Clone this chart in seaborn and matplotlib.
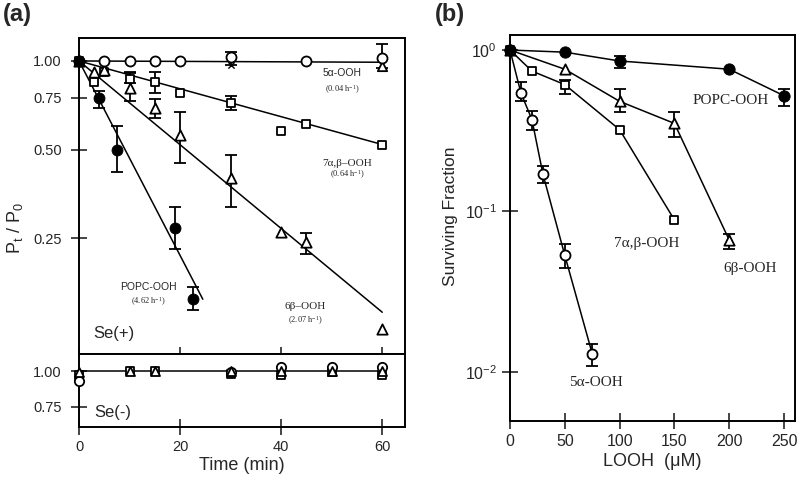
import numpy as np
import pandas as pd
import matplotlib
matplotlib.use("Agg")
import matplotlib.pyplot as plt
from matplotlib.ticker import FixedLocator, FixedFormatter, NullLocator
import seaborn as sns

# ---- panel (a), Se(+) : time (min) vs Pt/P0 ----
t_5a = [0, 5, 10, 15, 20, 30, 45, 60]
v_5a = [1.0, 1.0, 1.0, 1.0, 1.0, 1.03, 1.0, 1.02]
eb_5a_t = [30, 60]
eb_5a_lo = [0.97, 0.95]
eb_5a_hi = [1.07, 1.14]

t_7ab = [0, 3, 5, 10, 15, 20, 30, 40, 45, 60]
v_7ab = [1.0, 0.85, 0.92, 0.87, 0.85, 0.78, 0.72, 0.58, 0.61, 0.52]
eb_7ab_t = [10, 15, 30]
eb_7ab_lo = [0.84, 0.78, 0.68]
eb_7ab_hi = [0.92, 0.92, 0.76]

t_6b = [0, 3, 5, 10, 15, 20, 30, 40, 45, 60]
v_6b = [1.0, 0.92, 0.93, 0.81, 0.69, 0.56, 0.40, 0.263, 0.243, 0.123]
eb_6b_t = [10, 15, 20, 30, 45]
eb_6b_lo = [0.73, 0.64, 0.45, 0.32, 0.22]
eb_6b_hi = [0.91, 0.74, 0.67, 0.48, 0.26]

t_popc = [0, 4, 7.5, 19, 22.5]
v_popc = [1.0, 0.75, 0.50, 0.27, 0.155]
eb_popc_lo = [1.0, 0.69, 0.42, 0.23, 0.143]
eb_popc_hi = [1.0, 0.79, 0.60, 0.32, 0.17]

# fitted first-order decay lines (start, end)
fit_names = ["5a", "7ab", "6b", "popc"]
fit_t = [[0, 60], [0, 60], [0, 60], [0, 24.5]]
fit_v = [[1.0, 0.99], [1.0, 0.52], [1.0, 0.14], [1.0, 0.155]]

# stray symbols
extra_t = [30, 60]
extra_v = [0.97, 0.96]

# ---- panel (a), Se(-) ----
tn_5a = [0, 30, 40, 50, 60]
vn_5a = [0.92, 0.99, 1.03, 1.03, 1.03]
tn_7ab = [0, 10, 15, 30, 40, 50, 60]
vn_7ab = [0.97, 1.0, 1.0, 0.98, 0.97, 0.99, 0.97]
tn_6b = [0, 10, 15, 30, 40, 50, 60]
vn_6b = [0.99, 1.0, 1.0, 1.0, 1.0, 1.0, 1.0]

# ---- panel (b): LOOH (uM) vs surviving fraction ----
b_popc_x = [0, 50, 100, 200, 250]
b_popc_y = [1.0, 0.97, 0.855, 0.76, 0.52]
b_popc_eb_x = [100, 250]
b_popc_lo = [0.77, 0.45]
b_popc_hi = [0.92, 0.57]

b_6b_x = [0, 50, 100, 150, 200]
b_6b_y = [1.0, 0.76, 0.48, 0.35, 0.066]
b_6b_eb_x = [100, 150, 200]
b_6b_lo = [0.41, 0.29, 0.058]
b_6b_hi = [0.57, 0.41, 0.072]

b_7ab_x = [0, 20, 50, 100, 150]
b_7ab_y = [1.0, 0.74, 0.61, 0.32, 0.088]
b_7ab_eb_x = [50]
b_7ab_lo = [0.53]
b_7ab_hi = [0.65]

b_5a_x = [0, 10, 20, 30, 50, 75]
b_5a_y = [1.0, 0.54, 0.37, 0.17, 0.053, 0.013]
b_5a_eb_x = [10, 20, 30, 50, 75]
b_5a_lo = [0.48, 0.32, 0.15, 0.044, 0.0109]
b_5a_hi = [0.63, 0.42, 0.19, 0.062, 0.015]

sns.set_style("ticks")
plt.rcParams['font.family'] = ['Liberation Sans', 'DejaVu Sans']
plt.rcParams['mathtext.default'] = 'regular'

fig = plt.figure(figsize=(8, 4.82), dpi=100)
axu = fig.add_axes([0.09875, 0.2656, 0.4075, 0.6556])
axl = fig.add_axes([0.09875, 0.1141, 0.4075, 0.1515])
axb = fig.add_axes([0.6375, 0.1266, 0.35625, 0.8008])

open_kw = dict(facecolor="white", edgecolor="black", linewidth=1.3, zorder=4, clip_on=False, legend=False)
line_kw = dict(color="black", linewidth=1.1, zorder=2, estimator=None, sort=False, legend=False)


def bars(ax, x, lo, hi, cap=4):
    x = np.asarray(x, float)
    lo = np.asarray(lo, float)
    hi = np.asarray(hi, float)
    mid = (lo + hi) / 2
    ax.errorbar(x, mid, yerr=[mid - lo, hi - mid], fmt="none", ecolor="black",
                elinewidth=1.3, capsize=cap, capthick=1.3, zorder=3)


# upper (a)
for tt, vv in zip(fit_t, fit_v):
    sns.lineplot(x=tt, y=vv, ax=axu, **line_kw)
bars(axu, eb_5a_t, eb_5a_lo, eb_5a_hi)
bars(axu, eb_7ab_t, eb_7ab_lo, eb_7ab_hi)
bars(axu, eb_6b_t, eb_6b_lo, eb_6b_hi)
bars(axu, t_popc[1:], eb_popc_lo[1:], eb_popc_hi[1:])
sns.scatterplot(x=t_7ab, y=v_7ab, marker="s", s=40, ax=axu, **open_kw)
sns.scatterplot(x=t_6b, y=v_6b, marker="^", s=55, ax=axu, **open_kw)
sns.scatterplot(x=t_5a, y=v_5a, marker="o", s=52, ax=axu, **open_kw)
sns.scatterplot(x=t_popc, y=v_popc, marker="o", s=62, color="black", edgecolor="black",
                zorder=5, clip_on=False, ax=axu, legend=False)
axu.scatter(extra_t[:1], extra_v[:1], marker="x", s=20, color="black", linewidths=1, zorder=4)
axu.scatter(extra_t[1:], extra_v[1:], marker="^", s=45, facecolor="white", edgecolor="black",
            linewidths=1.3, zorder=3)

axu.set_yscale("log")
axu.set_xlim(0, 64.5)
axu.set_ylim(0.101, 1.197)
axu.yaxis.set_major_locator(FixedLocator([0.25, 0.5, 0.75, 1.0]))
axu.yaxis.set_major_formatter(FixedFormatter(["0.25", "0.50", "0.75", "1.00"]))
axu.yaxis.set_minor_locator(NullLocator())
axu.set_xticks([0, 20, 40, 60])
axu.tick_params(axis="x", direction="in", length=5, width=1.2, labelbottom=False)
axu.tick_params(axis="y", direction="inout", length=11, width=1.2, labelsize=10.5, pad=7)

sfont = dict(fontsize=7.5, ha="center", va="center")
axu.text(52, 0.91, "5α-OOH", **sfont)
axu.text(52, 0.80, "(0.04 h$^{-1}$)", fontsize=6, ha="center", va="center", family="Liberation Serif")
axu.text(53, 0.45, "7α,β–OOH", fontsize=8, ha="center", va="center", family="Liberation Serif")
axu.text(53, 0.41, "(0.64 h$^{-1}$)", fontsize=6, ha="center", va="center", family="Liberation Serif")
axu.text(13.7, 0.171, "POPC-OOH", **sfont)
axu.text(13.7, 0.152, "(4.62 h$^{-1}$)", fontsize=6, ha="center", va="center", family="Liberation Serif")
axu.text(44.8, 0.146, "6β–OOH", fontsize=8, ha="center", va="center", family="Liberation Serif")
axu.text(44.8, 0.131, "(2.07 h$^{-1}$)", fontsize=6, ha="center", va="center", family="Liberation Serif")
axu.text(2.8, 0.119, "Se(+)", fontsize=12, ha="left", va="center")

# lower (a)
sns.lineplot(x=[0, 60], y=[1.0, 1.0], ax=axl, **line_kw)
sns.scatterplot(x=tn_7ab, y=vn_7ab, marker="s", s=34, ax=axl, **open_kw)
sns.scatterplot(x=tn_5a, y=vn_5a, marker="o", s=45, ax=axl, **open_kw)
sns.scatterplot(x=tn_6b, y=vn_6b, marker="^", s=42, ax=axl, **open_kw)
axl.set_yscale("log")
axl.set_xlim(0, 64.5)
axl.set_ylim(0.639, 1.146)
axl.yaxis.set_major_locator(FixedLocator([0.75, 1.0]))
axl.yaxis.set_major_formatter(FixedFormatter(["0.75", "1.00"]))
axl.yaxis.set_minor_locator(NullLocator())
axl.set_xticks([0, 20, 40, 60])
axl.tick_params(axis="both", direction="inout", length=11, width=1.2, labelsize=10.5, pad=7)
axl.tick_params(axis="x", pad=4)
axl.text(3, 0.72, "Se(-)", fontsize=12, ha="left", va="center")
axl.set_xlabel("Time (min)", fontsize=13, labelpad=2)

# panel (b)
for xx, yy in [(b_popc_x, b_popc_y), (b_6b_x, b_6b_y), (b_7ab_x, b_7ab_y), (b_5a_x, b_5a_y)]:
    sns.lineplot(x=xx, y=yy, ax=axb, **line_kw)
bars(axb, b_popc_eb_x, b_popc_lo, b_popc_hi)
bars(axb, b_6b_eb_x, b_6b_lo, b_6b_hi)
bars(axb, b_7ab_eb_x, b_7ab_lo, b_7ab_hi)
bars(axb, b_5a_eb_x, b_5a_lo, b_5a_hi)
sns.scatterplot(x=b_7ab_x, y=b_7ab_y, marker="s", s=40, ax=axb, **open_kw)
sns.scatterplot(x=b_6b_x, y=b_6b_y, marker="^", s=55, ax=axb, **open_kw)
sns.scatterplot(x=b_5a_x, y=b_5a_y, marker="o", s=52, ax=axb, **open_kw)
sns.scatterplot(x=b_popc_x, y=b_popc_y, marker="o", s=66, color="black", edgecolor="black",
                zorder=5, clip_on=False, ax=axb, legend=False)
axb.set_yscale("log")
axb.set_xlim(0, 260)
axb.set_ylim(0.00496, 1.24)
axb.yaxis.set_major_locator(FixedLocator([0.01, 0.1, 1.0]))
axb.yaxis.set_major_formatter(FixedFormatter(["10$^{-2}$", "10$^{-1}$", "10$^{0}$"]))
axb.yaxis.set_minor_locator(NullLocator())
axb.set_xticks([0, 50, 100, 150, 200, 250])
axb.tick_params(axis="both", direction="inout", length=11, width=1.2, labelsize=11.5, pad=4)
axb.set_xlabel("LOOH  (μM)", fontsize=13, labelpad=3)

serif = dict(fontsize=11, ha="center", va="center", family="Liberation Serif")
axb.text(201.6, 0.489, "POPC-OOH", **serif)
axb.text(125, 0.0632, "7α,β-OOH", **serif)
axb.text(219, 0.044, "6β-OOH", **serif)
axb.text(78.5, 0.0086, "5α-OOH", **serif)

for ax in (axu, axl, axb):
    for sp in ax.spines.values():
        sp.set_visible(True)
        sp.set_linewidth(1.4)
        sp.set_color("black")
    ax.set_ylabel("")

fig.text(0.019, 1 - 228 / 482, "P$_t$ / P$_0$", rotation=90, ha="center", va="center", fontsize=13)
fig.text(450 / 800, 1 - 216 / 482, "Surviving Fraction", rotation=90, ha="center", va="center", fontsize=12.5)
fig.text(3 / 800, 1 - 14 / 482, "(a)", fontsize=17, fontweight="bold", ha="left", va="center")
fig.text(435 / 800, 1 - 14 / 482, "(b)", fontsize=17, fontweight="bold", ha="left", va="center")

fig.savefig("out.png", dpi=100, facecolor="white")
